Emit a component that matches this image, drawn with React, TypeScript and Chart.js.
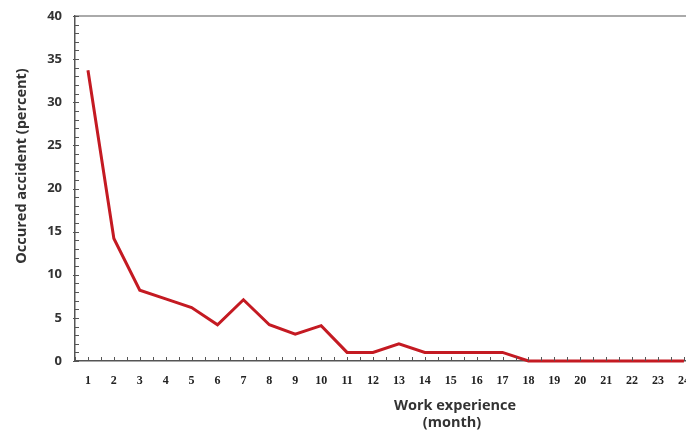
import React, { useEffect, useRef } from "react";
import { Chart, registerables } from "chart.js";

Chart.register(...registerables);

const months = [1, 2, 3, 4, 5, 6, 7, 8, 9, 10, 11, 12, 13, 14, 15, 16, 17, 18, 19, 20, 21, 22, 23, 24];
const accidents = [33.7, 14.2, 8.2, 7.2, 6.2, 4.2, 7.1, 4.2, 3.1, 4.1, 1.0, 1.0, 2.0, 1.0, 1.0, 1.0, 1.0, 0, 0, 0, 0, 0, 0, 0];
const yMajorLabels = [0, 5, 10, 15, 20, 25, 30, 35, 40];
const xTitleLines = ["Work experience", "(month)"];
const yTitle = "Occured accident (percent)";

const decor = {
  id: "decor",
  afterDraw(chart: any) {
    const { ctx, chartArea, scales } = chart;
    const x = scales.x;
    const y = scales.y;
    ctx.save();
    ctx.strokeStyle = "#555";
    ctx.lineWidth = 1;
    x.ticks.forEach((t: any) => {
      const px = Math.round(x.getPixelForValue(t.value)) + 0.5;
      ctx.beginPath();
      ctx.moveTo(px, chartArea.bottom);
      ctx.lineTo(px, chartArea.bottom - 4);
      ctx.stroke();
    });
    y.ticks.forEach((t: any) => {
      const py = Math.round(y.getPixelForValue(t.value)) + 0.5;
      const major = yMajorLabels.includes(t.value);
      ctx.beginPath();
      ctx.moveTo(chartArea.left - (major ? 2 : 0), py);
      ctx.lineTo(chartArea.left + 4, py);
      ctx.stroke();
    });
    ctx.fillStyle = "#333";
    ctx.font = 'bold 14.5px "Open Sans"';
    ctx.textAlign = "center";
    ctx.textBaseline = "middle";
    const cx = x.getPixelForValue(15.05);
    ctx.fillText(xTitleLines[0], cx + 3, chartArea.bottom + 45);
    ctx.fillText(xTitleLines[1], cx, chartArea.bottom + 62);
    ctx.translate(22, chartArea.top + 150);
    ctx.rotate(-Math.PI / 2);
    ctx.fillText(yTitle, 0, 0);
    ctx.restore();
  },
};

export default function App() {
  const ref = useRef<HTMLCanvasElement>(null);
  useEffect(() => {
    if (!ref.current) return;
    const chart = new Chart(ref.current, {
      type: "line",
      data: {
        datasets: [
          {
            data: months.map((m, i) => ({ x: m, y: accidents[i] })),
            borderColor: "rgb(196,26,34)",
            borderWidth: 3,
            pointRadius: 0,
            tension: 0,
            clip: false as any,
          },
        ],
      },
      options: {
        responsive: false,
        animation: false,
        layout: { padding: { top: 16, left: 0, right: 0, bottom: 0 } },
        plugins: { legend: { display: false }, tooltip: { enabled: false } },
        scales: {
          x: {
            type: "linear",
            min: 0.5,
            max: 24.08,
            afterFit: (s: any) => {
              s.height = 73;
              s.paddingLeft = 0;
              s.paddingRight = 0;
            },
            afterBuildTicks: (s: any) => {
              const t: any[] = [];
              months.forEach((m) => {
                t.push({ value: m - 0.5 });
                t.push({ value: m });
              });
              s.ticks = t;
            },
            grid: { display: true, drawOnChartArea: false, drawTicks: false },
            border: { display: true, color: "#555", width: 1.5 },
            ticks: {
              autoSkip: false,
              maxRotation: 0,
              padding: 13,
              color: "#222",
              font: { family: '"Liberation Serif"', size: 12, weight: "bold" },
              callback: (v: any) => (Number.isInteger(v) ? String(v) : ""),
            },
          },
          y: {
            min: 0,
            max: 40,
            afterFit: (s: any) => {
              s.width = 75;
              s.paddingTop = 0;
              s.paddingBottom = 0;
            },
            grid: {
              drawTicks: false,
              color: (c: any) => (c.tick && c.tick.value === 40 ? "#aaa" : "rgba(0,0,0,0)"),
              lineWidth: 2,
            },
            border: { display: true, color: "#555", width: 1.5 },
            ticks: {
              stepSize: 1,
              autoSkip: false,
              padding: 13,
              color: "#333",
              font: { family: '"Open Sans"', size: 13, weight: "bold" },
              callback: (v: any) => (yMajorLabels.includes(v) ? String(v) : ""),
            },
          },
        },
      },
      plugins: [decor],
    });
    return () => chart.destroy();
  }, []);
  return (
    <div style={{ position: "fixed", left: 0, top: 0, width: 686, height: 434, background: "#fff" }}>
      <canvas ref={ref} width={686} height={434} style={{ display: "block" }} />
    </div>
  );
}
